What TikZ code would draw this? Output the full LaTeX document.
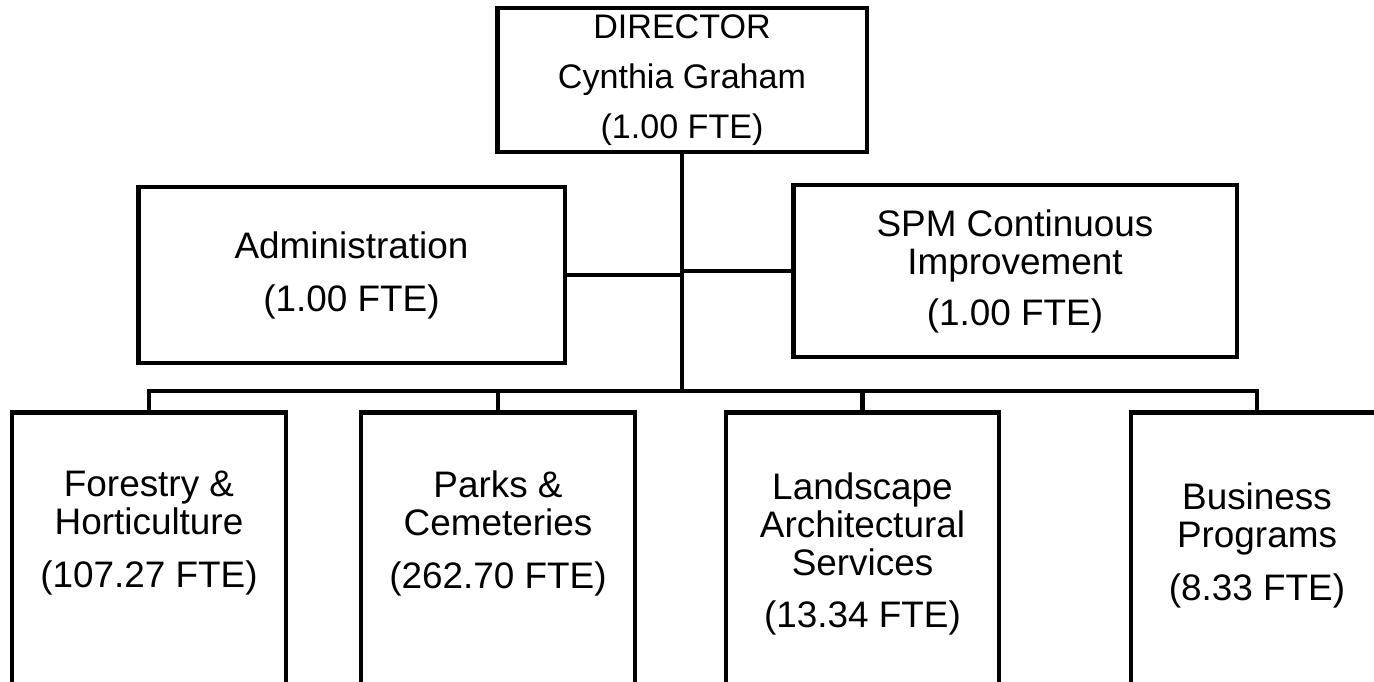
\documentclass[tikz,border=0pt]{standalone}
\usepackage{fontspec}
\setmainfont{Liberation Sans}
\newcommand{\orgfont}{\fontsize{21}{21.6}\selectfont}
\newcommand{\dirfont}{\fontsize{19.4}{20}\selectfont}
\begin{document}
\begin{tikzpicture}[x=0.02cm, y=-0.02cm,
  unit/.style={draw, rectangle, line width=2.8pt, inner sep=0pt, align=center, font=\orgfont},
  lbl/.style={align=center, font=\orgfont},
  link/.style={line width=2.8pt}]
\useasboundingbox (0,0) rectangle (1374,681);
% top: director and staff
\node[unit, font=\dirfont, minimum width=7.4cm, minimum height=2.88cm] (dir) at (682,80)
  {DIRECTOR\\[0.3cm]Cynthia Graham\\[0.3cm](1.00 FTE)};
\node[unit, minimum width=8.54cm, minimum height=3.52cm] (admin) at (351.5,275)
  {Administration\\[0.3cm](1.00 FTE)};
\node[unit, minimum width=8.88cm, minimum height=3.44cm] (spm) at (1015,271)
  {SPM Continuous\\Improvement\\[0.26cm](1.00 FTE)};
\coordinate (hub) at (682,391);
% bottom: divisions
\node[unit, minimum width=5.48cm, minimum height=5.76cm] (forestry) at (149,556) {};
\node[unit, minimum width=5.48cm, minimum height=5.76cm] (parks) at (498,556) {};
\node[unit, minimum width=5.46cm, minimum height=5.76cm] (landscape) at (862.5,556) {};
\node[unit, minimum width=5.04cm, minimum height=5.76cm] (business) at (1257,556) {};
\node[lbl] (forestry-txt) at (149,533) {Forestry \&\\Horticulture\\[0.3cm](107.27 FTE)};
\node[lbl] (parks-txt) at (498,533) {Parks \&\\Cemeteries\\[0.3cm](262.70 FTE)};
\node[lbl] (landscape-txt) at (862.5,554) {Landscape\\Architectural\\Services\\[0.3cm](13.34 FTE)};
\node[lbl] (business-txt) at (1257,545) {Business\\Programs\\[0.3cm](8.33 FTE)};
% connectors
\draw[link] (dir) -- (hub);
\draw[link] (admin.east) -- (admin.east -| hub);
\draw[link] (spm.west) -- (spm.west -| hub);
\draw[link, line join=miter] (forestry.north) |- (hub) -| (business.north);
\foreach \b in {parks,landscape}
  \draw[link] (\b.north) -- (\b.north |- hub);
\end{tikzpicture}
\end{document}
